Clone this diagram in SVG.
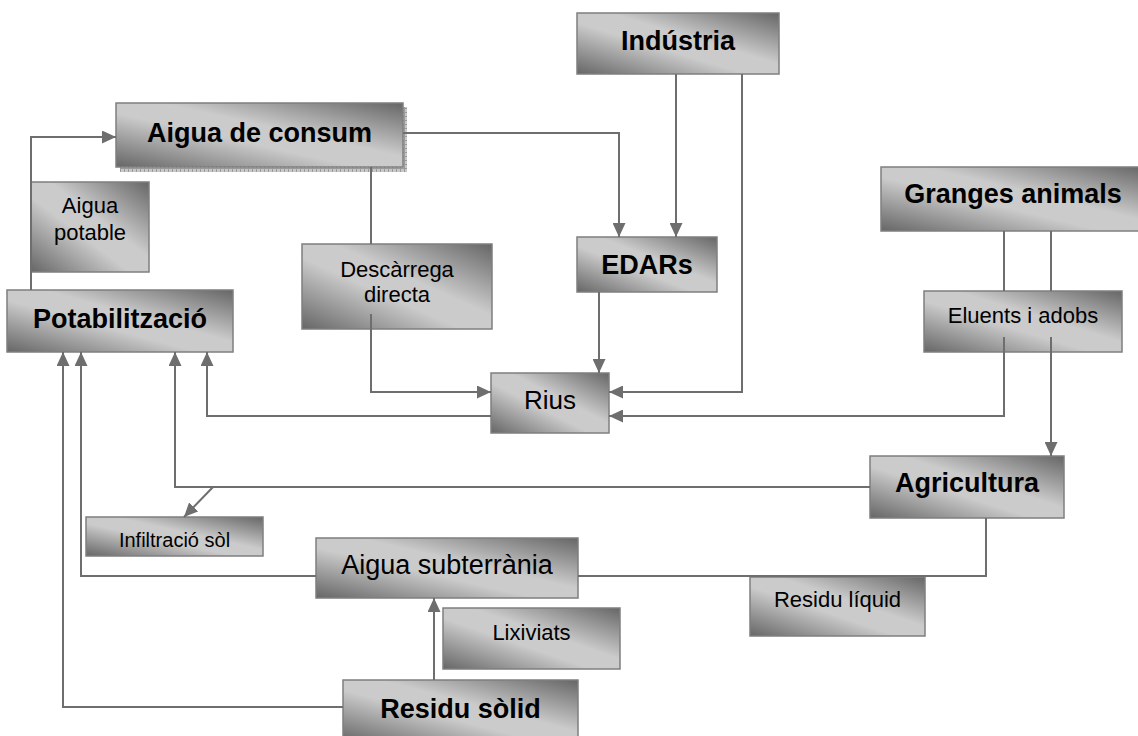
<svg xmlns="http://www.w3.org/2000/svg" width="1138" height="736" viewBox="0 0 1138 736">
<defs>
<linearGradient id="g" x1="0" y1="1" x2="1" y2="0">
<stop offset="0" stop-color="#666666"/>
<stop offset="0.42" stop-color="#cbcbcb"/>
<stop offset="0.58" stop-color="#cbcbcb"/>
<stop offset="1" stop-color="#666666"/>
</linearGradient>
<pattern id="sh" width="4" height="4" patternUnits="userSpaceOnUse">
<rect width="4" height="4" fill="#c8c8c8"/>
<path d="M0,0.5 H4 M0.5,0 V4" stroke="#9a9a9a" stroke-width="1"/>
</pattern>
<marker id="ah" viewBox="0 0 14 13" refX="14" refY="6.5" markerWidth="14" markerHeight="13" markerUnits="userSpaceOnUse" orient="auto">
<path d="M0,0 L14,6.5 L0,13 z" fill="#6e6e6e"/>
</marker>
</defs>
<style>
.box{fill:url(#g);stroke:#7f7f7f;stroke-width:1.5}
.b{font-family:"Liberation Sans",Arial,sans-serif;font-weight:bold;font-size:27px;fill:#000;text-anchor:middle}
.r{font-family:"Liberation Sans",Arial,sans-serif;font-size:22px;fill:#000;text-anchor:middle}
.c{fill:none;stroke:#6e6e6e;stroke-width:2}
.a{marker-end:url(#ah)}
</style>
<rect width="1138" height="736" fill="#ffffff"/>

<g id="aigua-consum">
<rect x="120" y="107" width="287" height="65" fill="url(#sh)"/>
<rect class="box" x="116" y="103" width="287" height="64"/>
<text class="b" x="259.5" y="142">Aigua de consum</text>
</g>
<g id="industria">
<rect class="box" x="577" y="13" width="202" height="61"/>
<text class="b" x="678" y="50">Indústria</text>
</g>
<g id="granges">
<rect class="box" x="881" y="167" width="264" height="64"/>
<text class="b" x="1013" y="203">Granges animals</text>
</g>
<g id="eluents">
<rect class="box" x="924" y="291" width="198" height="61"/>
<text class="r" x="1023" y="323">Eluents i adobs</text>
</g>
<g id="edars">
<rect class="box" x="577" y="237" width="140" height="55"/>
<text class="b" x="647" y="274">EDARs</text>
</g>
<g id="aigua-potable">
<rect class="box" x="31" y="182" width="118" height="90"/>
<text class="r" x="90" y="213">Aigua</text>
<text class="r" x="90" y="240">potable</text>
</g>
<g id="potabilitzacio">
<rect class="box" x="7" y="290" width="226" height="62"/>
<text class="b" x="120" y="328">Potabilització</text>
</g>
<g id="descarrega">
<rect class="box" x="302" y="244" width="190" height="85"/>
<text class="r" x="397" y="277">Descàrrega</text>
<text class="r" x="397" y="302">directa</text>
</g>
<g id="rius">
<rect class="box" x="491" y="373" width="118" height="60"/>
<text class="r" x="550" y="409" style="font-size:26px">Rius</text>
</g>
<g id="agricultura">
<rect class="box" x="870" y="456" width="194" height="62"/>
<text class="b" x="967" y="492">Agricultura</text>
</g>
<g id="infiltracio">
<rect class="box" x="86" y="517" width="177" height="39"/>
<text class="r" x="174.5" y="547" style="font-size:20px">Infiltració sòl</text>
</g>
<g id="aigua-subterrania">
<rect class="box" x="316" y="538" width="262" height="60"/>
<text class="r" x="447" y="574" style="font-size:27px">Aigua subterrània</text>
</g>
<g id="residu-liquid">
<rect class="box" x="750" y="577" width="175" height="59"/>
<text class="r" x="837.5" y="607">Residu líquid</text>
</g>
<g id="lixiviats">
<rect class="box" x="443" y="608" width="177" height="61"/>
<text class="r" x="531.5" y="640">Lixiviats</text>
</g>
<g id="residu-solid">
<rect class="box" x="343" y="680" width="235" height="62"/>
<text class="b" x="460.5" y="718">Residu sòlid</text>
</g>

<g id="connectors">
<path class="c a" d="M31,290 V137 H116"/>
<path class="c a" d="M403,133 H619 V237"/>
<path class="c a" d="M676,74 V237"/>
<path class="c a" d="M742,74 V392 H609"/>
<path class="c a" d="M599,292 V373"/>
<path class="c" d="M371,167 V244"/>
<path class="c a" d="M371,314 V392 H491"/>
<path class="c" d="M1004,231 V291 M1051,231 V291"/>
<path class="c a" d="M1004,337 V416 H609"/>
<path class="c a" d="M1051,337 V456"/>
<path class="c a" d="M491,416 H207 V352"/>
<path class="c a" d="M870,487 H175 V352"/>
<path class="c a" d="M213,487 L184,517"/>
<path class="c a" d="M316,576 H81 V352"/>
<path class="c" d="M986,518 V576 H578"/>
<path class="c a" d="M343,707 H63 V352"/>
<path class="c a" d="M434,680 V598"/>
</g>
</svg>
